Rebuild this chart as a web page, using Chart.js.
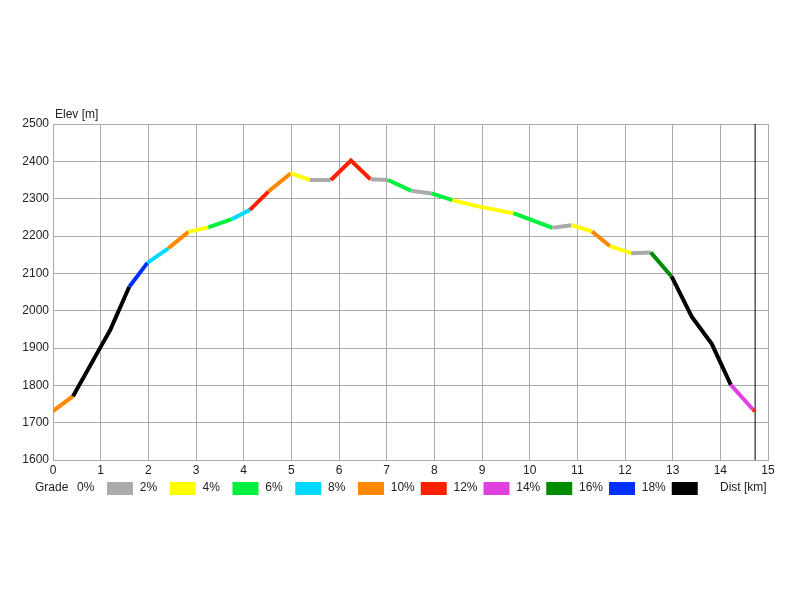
<!DOCTYPE html>
<html>
<head>
<meta charset="utf-8">
<script src="https://cdn.jsdelivr.net/npm/chart.js@4"></script>
<style>
  body { margin: 0; background: #fff; }
</style>
</head>
<body>
<canvas id="profileChart" width="800" height="600"></canvas>
<script>
// distance along the route [km] and elevation [m]
const distKm = [0, 0.42, 1.0, 1.2, 1.6, 1.98, 2.42, 2.84, 3.26, 3.75, 4.13, 4.52, 4.99, 5.39, 5.83, 6.25, 6.66, 7.03, 7.52, 7.94, 8.38, 8.96, 9.66, 10.48, 10.88, 11.31, 11.68, 12.13, 12.54, 12.98, 13.4, 13.82, 14.22, 14.68, 14.73];
const elevM = [1731, 1771, 1903, 1948, 2064, 2128, 2167, 2211, 2223, 2245, 2270, 2319, 2368, 2350, 2350, 2402, 2352, 2350, 2321, 2314, 2296, 2278, 2261, 2222, 2229, 2212, 2173, 2154, 2156, 2091, 1984, 1911, 1801, 1736, 1731];

// grade band of every segment (index into gradeLabels / gradeColors)
const segmentGrade = [4, 9, 9, 9, 8, 3, 4, 1, 2, 3, 5, 4, 1, 0, 5, 5, 0, 2, 0, 2, 1, 1, 2, 0, 1, 4, 1, 0, 7, 9, 9, 9, 6, 5];

const gradeLabels = ["0%", "2%", "4%", "6%", "8%", "10%", "12%", "14%", "16%", "18%"];
const gradeColors = ["#aaaaaa", "#ffff00", "#00f040", "#00d8ff", "#ff8800", "#ff2000", "#e040e0", "#008c00", "#0030ff", "#000000"];

const endMarkerKm = 14.73;
const elevTicks = [1600, 2500];
const distTicks = [0, 15];

const textColor = "#222";
const gridColor = "#aaaaaa";
const fontFamily = "'Liberation Sans', Arial, sans-serif";

// axis titles and the grade legend, drawn under the chart like the original
const legendPlugin = {
    id: "gradeLegend",
    afterDraw(chart) {
        const ctx = chart.ctx;
        const area = chart.chartArea;
        ctx.save();
        ctx.font = "12px " + fontFamily;
        ctx.fillStyle = textColor;
        ctx.textBaseline = "middle";
        ctx.textAlign = "left";
        ctx.fillText("Elev [m]", area.left + 2, area.top - 9);

        const y = 488;
        ctx.fillText("Grade", 35, y);
        let boxX = 107;
        for (let i = 0; i < gradeLabels.length; i++) {
            ctx.fillStyle = textColor;
            ctx.fillText(gradeLabels[i], boxX - 30, y);
            ctx.fillStyle = gradeColors[i];
            ctx.fillRect(boxX, y - 6, 26, 13);
            boxX += 62.75;
        }
        ctx.fillStyle = textColor;
        ctx.fillText("Dist [km]", 720, y);
        ctx.restore();
    },
};

const chartEl = document.getElementById("profileChart");

new Chart(chartEl, {
    type: "line",
    data: {
        datasets: [
            {
                label: "Elevation",
                data: distKm.map((d, i) => ({ x: d, y: elevM[i] })),
                borderWidth: 4,
                pointRadius: 0,
                tension: 0,
                borderColor: "#000",
                segment: {
                    borderColor: (ctx) => gradeColors[segmentGrade[ctx.p0DataIndex]],
                },
            },
            {
                label: "End",
                data: [
                    { x: endMarkerKm, y: elevTicks[0] },
                    { x: endMarkerKm, y: elevTicks[1] },
                ],
                borderColor: "#000",
                borderWidth: 1,
                pointRadius: 0,
            },
        ],
    },
    options: {
        responsive: false,
        animation: false,
        layout: {
            padding: { left: 0, top: 124, right: 32, bottom: 0 },
        },
        scales: {
            x: {
                type: "linear",
                min: distTicks[0],
                max: distTicks[1],
                afterFit: (scale) => { scale.height = 140; },
                grid: { color: gridColor, drawTicks: false },
                border: { color: gridColor },
                ticks: {
                    stepSize: 1,
                    padding: 3,
                    color: textColor,
                    font: { family: fontFamily, size: 12 },
                },
            },
            y: {
                min: elevTicks[0],
                max: elevTicks[1],
                afterFit: (scale) => { scale.width = 53; },
                grid: { color: gridColor, drawTicks: false },
                border: { color: gridColor },
                ticks: {
                    stepSize: 100,
                    padding: 4,
                    color: textColor,
                    font: { family: fontFamily, size: 12 },
                    callback: (value) => String(value),
                },
            },
        },
        plugins: {
            legend: { display: false },
            tooltip: { enabled: false },
        },
    },
    plugins: [legendPlugin],
});
</script>
</body>
</html>
